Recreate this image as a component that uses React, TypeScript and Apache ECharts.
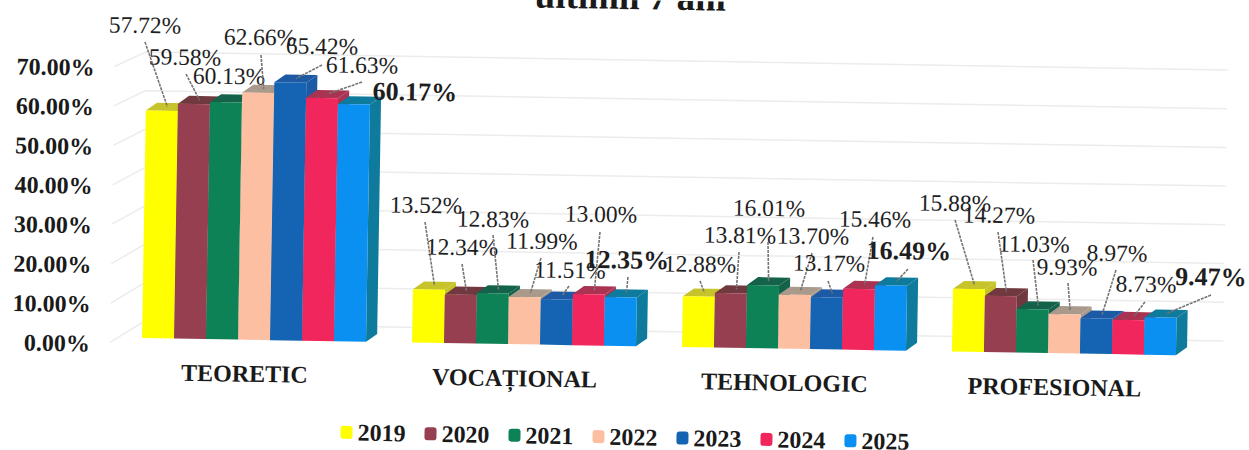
import React, { useEffect, useRef } from "react";
import * as echarts from "echarts";

const categories = ["TEORETIC", "VOCAȚIONAL", "TEHNOLOGIC", "PROFESIONAL"];
const years = ["2019", "2020", "2021", "2022", "2023", "2024", "2025"];
const values2019 = [57.72, 13.52, 12.88, 15.88];
const values2020 = [59.58, 12.34, 13.81, 14.27];
const values2021 = [60.13, 12.83, 16.01, 11.03];
const values2022 = [62.66, 11.99, 13.7, 9.93];
const values2023 = [65.42, 11.51, 13.17, 8.97];
const values2024 = [61.63, 13.0, 15.46, 8.73];
const values2025 = [60.17, 12.35, 16.49, 9.47];
const allValues = [values2019, values2020, values2021, values2022, values2023, values2024, values2025];
const axisTicks = [0, 10, 20, 30, 40, 50, 60, 70];

const frontColors = ["#ffff00", "#953f50", "#0e8257", "#fdbfa2", "#1563b3", "#f0265c", "#0a90f0"];
const topColors = ["#c6c42a", "#70383f", "#146249", "#a99a8c", "#1c5aa6", "#a93350", "#0e7b9c"];

// Hand placement of the value labels on the page: [textX, textY, leaderStartX, leaderStartY]; per year, per category.
const labelSpots: (number | null)[][][] = [
  [[145, 25, 145, 42], [426, 205, 425, 222], [700, 264, 700, 281], [955, 203, 955, 220]],
  [[185, 57, 186, 74], [462, 247, 462, 264], [740, 235, 739, 252], [999, 215, 998, 232]],
  [[229, 76, null, null], [493, 219, 493, 235], [769, 208, 768, 242], [1034, 244, 1033, 260]],
  [[260, 37, 261, 55], [542, 241, 541, 258], [813, 236, 812, 253], [1067, 267, 1068, 283]],
  [[322, 46, 322, 65], [570, 270, 569, 286], [829, 263, 828, 281], [1117, 253, 1116, 270]],
  [[362, 65, 362, 82], [601, 214, 600, 232], [875, 219, 873, 237], [1146, 284, 1145, 302]],
  [[415, 92, null, null], [627, 260, 628, 277], [909, 251, 908, 269], [1211, 277, 1211, 295]],
];

const TILT_DEG = 0.95;
const SIN = Math.sin((TILT_DEG * Math.PI) / 180);
const COS = Math.cos((TILT_DEG * Math.PI) / 180);
const CX = 1249 / 2;
const CY = 225;
const DEPTH_X = 11;
const DEPTH_Y = -8;
const FONT = '"Liberation Serif", "Times New Roman", serif';

// page point -> chart point, the whole chart being tilted by the scan
function untilt(px: number, py: number): [number, number] {
  const dx = px - CX;
  const dy = py - CY;
  return [CX + COS * dx + SIN * dy, CY - SIN * dx + COS * dy];
}

function barShape(yearIdx: number) {
  return (params: any, api: any) => {
    const cat = api.value(0);
    const val = api.value(1);
    const [cx, yTop] = api.coord([cat, val]);
    const [, yBase] = api.coord([cat, 0]);
    const band = api.size([1, 0])[0];
    const w = ((224 / 270) * band) / years.length;
    const x0 = cx - (w * years.length) / 2 + w * yearIdx;
    const x1 = x0 + w;
    const fill = (points: number[][], color: string) => ({
      type: "polygon",
      shape: { points },
      style: { fill: color, stroke: "none" },
    });
    return {
      type: "group",
      children: [
        fill(
          [[x1, yTop], [x1 + DEPTH_X, yTop + DEPTH_Y], [x1 + DEPTH_X, yBase + DEPTH_Y], [x1, yBase]],
          topColors[yearIdx]
        ),
        fill(
          [[x0, yTop], [x0 + DEPTH_X, yTop + DEPTH_Y], [x1 + DEPTH_X, yTop + DEPTH_Y], [x1, yTop]],
          topColors[yearIdx]
        ),
        fill([[x0, yTop], [x1, yTop], [x1, yBase], [x0, yBase]], frontColors[yearIdx]),
      ],
    };
  };
}

function renderLabel(params: any, api: any) {
  const cat = api.value(0);
  const val = api.value(1);
  const yearIdx = api.value(2);
  const [cx, yTop] = api.coord([cat, val]);
  const band = api.size([1, 0])[0];
  const w = ((224 / 270) * band) / years.length;
  const endX = cx - (w * years.length) / 2 + w * (yearIdx + 0.5) + DEPTH_X / 2;
  const endY = yTop + DEPTH_Y / 2;
  const spot = labelSpots[yearIdx][cat];
  const [tx, ty] = untilt(spot[0] as number, spot[1] as number);
  const children: any[] = [];
  if (spot[2] !== null) {
    const [sx, sy] = untilt(spot[2] as number, spot[3] as number);
    children.push({
      type: "line",
      shape: { x1: sx, y1: sy, x2: endX, y2: endY },
      style: { stroke: "#757575", lineWidth: 1.6, lineDash: [3, 1] },
    });
  }
  const last = yearIdx === years.length - 1;
  children.push({
    type: "text",
    style: {
      text: val.toFixed(2) + "%",
      x: tx,
      y: ty,
      align: "center",
      verticalAlign: "middle",
      fill: "#1e1e1e",
      font: `${last ? "bold 26px" : "23.5px"} ${FONT}`,
    },
  });
  return { type: "group", children };
}

function renderGridLine(params: any, api: any) {
  const v = api.value(1);
  const [, y] = api.coord([0, v]);
  const sys = params.coordSys;
  const backY = y - 15 + (5 * v) / 70;
  return {
    type: "polyline",
    shape: {
      points: [
        [sys.x - 9, y + 5],
        [sys.x + 22, backY],
        [sys.x + sys.width + 24, backY],
      ],
    },
    style: { stroke: "#ececec", lineWidth: 1.5, fill: "none" },
  };
}

export default function App() {
  const ref = useRef<HTMLDivElement>(null);
  useEffect(() => {
    document.body.style.margin = "0";
    document.body.style.background = "#fff";
    const chart = echarts.init(ref.current!, undefined, { renderer: "svg", width: 1249, height: 450 });
    const barSeries = years.map((year, yi) => ({
      type: "custom",
      name: year,
      z: 3,
      renderItem: barShape(yi),
      itemStyle: { color: frontColors[yi] },
      encode: { x: 0, y: 1 },
      data: allValues[yi].map((v, ci) => [ci, v]),
    }));
    const labelData: number[][] = [];
    allValues.forEach((vals, yi) => vals.forEach((v, ci) => labelData.push([ci, v, yi])));
    chart.setOption({
      animation: false,
      backgroundColor: "#fff",
      title: {
        text: "ultimii 7 ani",
        left: 526,
        top: -27,
        textStyle: { fontFamily: FONT, fontWeight: "bold", fontSize: 37, color: "#1a1a1a" },
      },
      legend: {
        data: years,
        selectedMode: false,
        left: 344,
        top: 425,
        itemWidth: 12,
        itemHeight: 13,
        itemGap: 19,
        padding: 0,
        textStyle: { fontFamily: FONT, fontWeight: "bold", fontSize: 24, color: "#1a1a1a" },
      },
      grid: { left: 121, right: 48, top: 70, bottom: 104 },
      xAxis: {
        type: "category",
        data: categories,
        axisLine: { show: false },
        axisTick: { show: false },
        axisLabel: {
          margin: 22,
          padding: [0, 18, 0, 0],
          fontFamily: FONT,
          fontWeight: "bold",
          fontSize: 24,
          color: "#1a1a1a",
        },
      },
      yAxis: {
        type: "value",
        min: 0,
        max: 70,
        interval: 10,
        axisLine: { show: false },
        axisTick: { show: false },
        splitLine: { show: false },
        axisLabel: {
          margin: 29,
          verticalAlign: "top",
          lineHeight: 13,
          fontFamily: FONT,
          fontWeight: "bold",
          fontSize: 24,
          color: "#1a1a1a",
          formatter: (v: number) => v.toFixed(2) + "%",
        },
      },
      series: [
        {
          type: "custom",
          name: "grid",
          z: 1,
          renderItem: renderGridLine,
          encode: { x: 0, y: 1 },
          data: axisTicks.map((t) => [0, t]),
        },
        ...barSeries,
        {
          type: "custom",
          name: "labels",
          z: 5,
          renderItem: renderLabel,
          encode: { x: 0, y: 1 },
          data: labelData,
        },
      ],
    });
    return () => chart.dispose();
  }, []);
  return (
    <div style={{ position: "fixed", left: 0, top: 0, width: 1249, height: 450, overflow: "hidden", background: "#fff" }}>
      <div
        ref={ref}
        style={{ width: 1249, height: 450, transform: `rotate(${TILT_DEG}deg)`, transformOrigin: "624.5px 225px" }}
      />
    </div>
  );
}
